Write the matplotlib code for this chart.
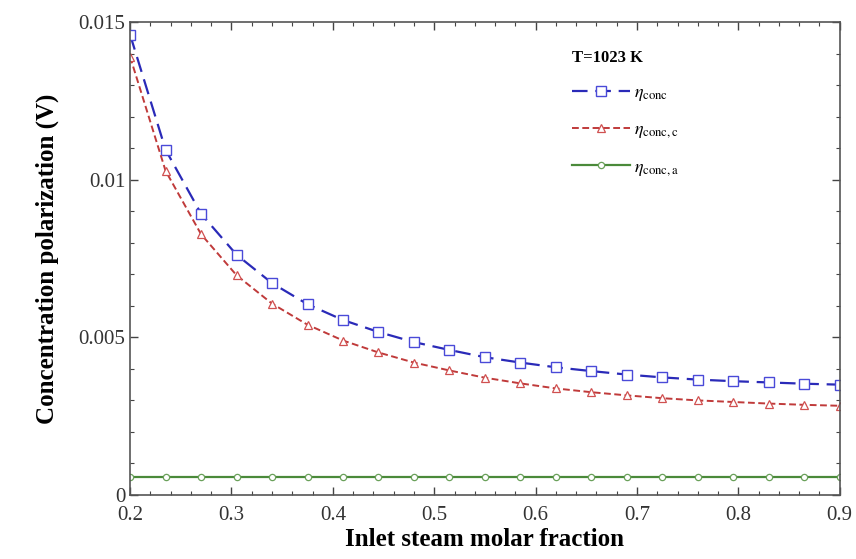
import matplotlib
matplotlib.use('Agg')
import matplotlib.pyplot as plt
from matplotlib.ticker import MultipleLocator, FormatStrFormatter

plt.rcParams['font.family'] = ['Liberation Serif', 'DejaVu Serif']
plt.rcParams['mathtext.fontset'] = 'stix'

# inlet steam molar fraction (marker positions)
x_frac = [0.2, 0.235, 0.27, 0.305, 0.34, 0.375, 0.41, 0.445, 0.48, 0.515, 0.55,
          0.585, 0.62, 0.655, 0.69, 0.725, 0.76, 0.795, 0.83, 0.865, 0.9]

# concentration polarization, V
eta_conc = [0.0146, 0.01095, 0.00892, 0.00762, 0.00672, 0.00605, 0.00555, 0.00517,
            0.00485, 0.0046, 0.00437, 0.0042, 0.00405, 0.00393, 0.00382, 0.00373,
            0.00366, 0.00361, 0.00357, 0.00353, 0.0035]
eta_conc_c = [0.0139, 0.01028, 0.00827, 0.00697, 0.00607, 0.0054, 0.0049, 0.00452,
              0.0042, 0.00395, 0.00372, 0.00354, 0.00338, 0.00326, 0.00316, 0.00307,
              0.003, 0.00295, 0.0029, 0.00286, 0.00283]
eta_conc_a = [0.00058] * len(x_frac)

labels = [r'$\eta_{\mathrm{conc}}$', r'$\eta_{\mathrm{conc,c}}$', r'$\eta_{\mathrm{conc,a}}$']

fig = plt.figure(figsize=(8.56, 5.59), dpi=100)
ax = fig.add_axes([0.152, 0.1145, 0.829, 0.846])

ax.plot(x_frac, eta_conc, color='#2a2ab8', ls=(0, (7, 3.5)), lw=1.6,
        marker='s', ms=7, mfc='white', mec='#4a4ad8', mew=1.0, label=labels[0])
ax.plot(x_frac, eta_conc_c, color='#c03a3a', ls=(0, (3.5, 1.8)), lw=1.4,
        marker='^', ms=6, mfc='white', mec='#d05050', mew=0.9, label=labels[1])
ax.plot(x_frac, eta_conc_a, color='#4a8a3a', ls='-', lw=1.6,
        marker='o', ms=4.5, mfc='white', mec='#6aa05a', mew=0.9, label=labels[2])

ax.set_xlim(0.2, 0.9)
ax.set_ylim(0, 0.015)
ax.xaxis.set_major_locator(MultipleLocator(0.1))
ax.xaxis.set_minor_locator(MultipleLocator(0.02))
ax.yaxis.set_major_locator(MultipleLocator(0.005))
ax.yaxis.set_minor_locator(MultipleLocator(0.001))
ax.xaxis.set_major_formatter(FormatStrFormatter('%g'))
ax.yaxis.set_major_formatter(FormatStrFormatter('%g'))
ax.tick_params(which='both', direction='in', top=True, right=True, colors='#444444',
               labelcolor='#333333', labelsize=15)
ax.tick_params(which='major', length=6, width=1)
ax.tick_params(which='minor', length=3, width=0.8)
ax.tick_params(axis='x', pad=8)
for sp in ax.spines.values():
    sp.set_color('#555555')
    sp.set_linewidth(1.2)

ax.set_xlabel('Inlet steam molar fraction', fontsize=18, fontweight='bold', labelpad=2)
ax.set_ylabel('Concentration polarization (V)', fontsize=18, fontweight='bold', labelpad=14)

leg = ax.legend(loc='upper left', bbox_to_anchor=(0.6, 0.975), frameon=False,
                title='T=1023 K', title_fontproperties={'weight': 'bold', 'size': 12},
                fontsize=13, handlelength=3.2, handletextpad=0.2, labelspacing=1.0)
leg._legend_box.align = 'left'

fig.savefig('out.png', dpi=100)
